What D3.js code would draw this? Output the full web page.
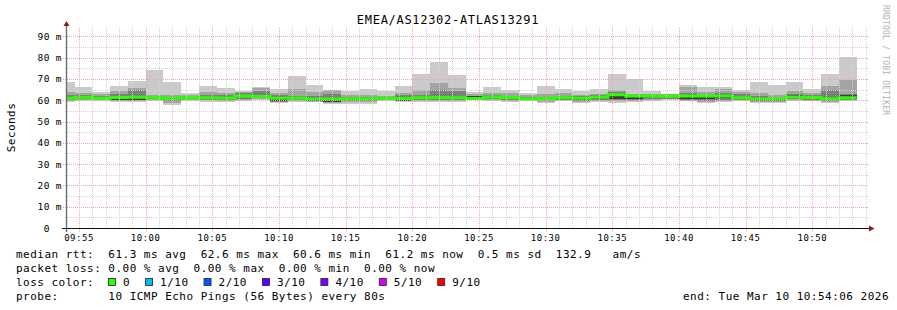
<!DOCTYPE html>
<html>
<head>
<meta charset="utf-8">
<script src="https://cdn.jsdelivr.net/npm/d3@7/dist/d3.min.js"></script>
<style>
  body { margin: 0; background: #fff; }
  svg text { font-family: "DejaVu Sans Mono", monospace; white-space: pre; }
</style>
</head>
<body>
<div id="chart"></div>
<script>
// one value per 80 s step, the first step starts before the left edge
var stepStart = "2026-03-10 09:53:20",
    stepSeconds = 80,
    graphStart = "2026-03-10 09:54:06",
    graphEnd = "2026-03-10 10:54:06";

// sorted pings per step (ms)
var pingMin = [59.0,59.6,59.8,59.2,59.2,59.8,58.0,59.8,59.2,59.1,59.8,60.0,58.8,59.2,59.1,58.3,58.3,58.4,59.8,59.3,59.1,59.1,59.2,60.0,59.6,59.1,59.8,58.8,59.8,58.8,59.3,58.8,59.1,59.5,60.2,59.5,58.8,59.1,59.5,58.8,58.8,59.8,59.5,58.8,59.5];
var pingLo2 = [59.8,60.2,60.2,59.8,59.6,60.3,58.8,60.2,59.9,59.6,60.3,60.5,59.0,59.7,59.4,58.8,59.0,59.3,60.2,59.5,59.7,59.6,59.7,60.3,60.0,59.7,60.0,59.4,60.1,59.3,59.7,59.5,59.6,60.0,60.5,59.8,59.3,59.6,59.9,59.3,59.3,60.1,59.8,59.3,59.9];
var pingLo3 = [60.3,60.6,60.4,60.0,59.9,60.6,59.5,60.5,60.3,60.0,60.8,60.9,59.2,60.2,59.5,59.1,59.6,59.8,60.4,59.6,60.1,60.0,60.1,60.5,60.5,60.2,60.2,59.9,60.3,59.7,60.1,60.0,60.1,60.5,60.8,60.0,59.8,60.0,60.2,59.5,59.5,60.4,60.1,59.8,60.3];
var pingLo5 = [60.6,61.1,60.7,60.3,60.0,61.0,59.9,61.0,60.9,60.8,61.7,61.1,59.5,60.8,59.8,59.4,60.2,60.4,60.7,59.8,60.9,61.0,60.9,60.5,61.2,61.0,60.3,60.5,60.7,60.3,60.5,60.8,60.8,61.7,61.6,60.5,60.5,61.1,60.5,59.8,59.8,61.2,61.0,60.4,60.8];
var pingMedian = [60.9,61.4,61.0,61.3,61.4,61.3,60.8,61.3,61.2,61.1,62.0,61.8,60.9,61.1,60.6,60.6,60.7,60.7,61.0,60.8,61.2,61.3,61.2,60.8,61.5,61.3,60.6,60.8,61.3,61.0,61.4,62.6,62.0,62.0,61.9,62.0,62.0,62.0,61.2,60.6,60.6,61.5,61.3,60.7,61.2];
var pingHi5 = [61.2,61.7,61.3,61.6,61.7,61.6,61.1,61.6,61.5,61.4,62.6,62.1,61.2,61.4,60.9,60.9,61.0,61.0,61.3,61.1,61.5,61.6,61.5,61.9,61.8,61.6,60.9,61.1,61.6,61.3,61.7,62.9,62.3,62.3,62.2,62.3,62.3,62.3,61.5,60.9,60.9,62.4,61.6,61.0,62.3];
var pingHi3 = [62.5,62.6,61.8,62.8,64.7,62.0,61.6,61.9,62.5,62.5,63.5,64.3,62.3,62.0,62.2,63.0,61.6,61.5,61.5,62.3,62.5,65.0,64.5,62.2,62.3,62.0,61.5,61.5,62.0,61.8,62.3,63.8,62.5,62.5,62.3,63.2,62.5,63.5,63.0,61.8,61.3,63.0,62.5,64.7,62.9];
var pingHi2 = [64.0,63.3,62.8,64.5,66.0,62.7,62.6,62.6,64.0,63.4,63.9,65.6,63.4,65.5,64.0,64.8,62.6,62.4,62.0,63.6,64.8,68.1,65.8,63.0,63.5,63.4,62.5,63.0,63.5,62.5,63.0,65.0,63.0,63.0,62.8,66.1,64.0,65.3,63.8,63.4,62.7,64.2,63.5,66.6,69.7];
var pingMax = [68.8,66.4,64.1,66.9,69.2,74.0,68.8,63.4,66.9,65.8,64.2,66.1,65.3,71.3,67.4,65.0,64.2,65.3,64.2,66.6,72.5,78.2,72.1,63.9,66.1,65.0,63.4,66.6,65.5,64.2,65.3,72.5,70.0,64.2,63.1,67.4,66.3,66.3,64.7,68.5,67.4,68.5,65.3,72.5,80.1];

var xTickLabels = ["09:55","10:00","10:05","10:10","10:15","10:20","10:25","10:30","10:35","10:40","10:45","10:50"];
var yTicks = [0,10,20,30,40,50,60,70,80,90];
var yTickLabels = ["0  ","10 m","20 m","30 m","40 m","50 m","60 m","70 m","80 m","90 m"];

var lossLabels = ["0","1/10","2/10","3/10","4/10","5/10","9/10"];
var lossColors = ["#26ff00","#00b8ff","#0059ff","#5e00ff","#7e00ff","#dd00ff","#ff0000"];

var legendLines = [
  "median rtt:  61.3 ms avg  62.6 ms max  60.6 ms min  61.2 ms now  0.5 ms sd  132.9   am/s",
  "packet loss: 0.00 % avg  0.00 % max  0.00 % min  0.00 % now",
  "loss color:",
  "probe:       10 ICMP Echo Pings (56 Bytes) every 80s"
];

var width = 897, height = 310,
    plotLeft = 67, plotRight = 867, plotBottom = 228, plotTop = 27;

var parse = d3.timeParse("%Y-%m-%d %H:%M:%S");
var t0 = parse(graphStart), t1 = parse(graphEnd), s0 = parse(stepStart);
var fmt = d3.timeFormat("%H:%M");

var x = d3.scaleTime().domain([t0, t1]).range([plotLeft, plotRight]);
var y = d3.scaleLinear().domain([0, 94.42]).range([plotBottom, plotTop]);

// step start times, plus the end of the last one
var times = pingMedian.map(function(d, i) { return d3.timeSecond.offset(s0, i * stepSeconds); });
times.push(d3.timeSecond.offset(s0, pingMedian.length * stepSeconds));

var svg = d3.select("#chart").append("svg")
    .attr("width", width)
    .attr("height", height);

svg.append("rect").attr("width", width).attr("height", height).attr("fill", "#fff");

svg.append("clipPath").attr("id", "plot")
  .append("rect")
    .attr("x", plotLeft).attr("y", plotTop)
    .attr("width", plotRight - plotLeft).attr("height", plotBottom - plotTop);

// smoke, outer band first
var bands = [
  { lo: pingMin, hi: pingMax, color: "#cacaca" },
  { lo: pingLo2, hi: pingHi2, color: "#a4a4a4" },
  { lo: pingLo3, hi: pingHi3, color: "#7e7e7e" },
  { lo: pingLo5, hi: pingHi5, color: "#3c3c3c" }
];

var smoke = svg.append("g").attr("clip-path", "url(#plot)").attr("shape-rendering", "crispEdges");
bands.forEach(function(b) {
  smoke.append("g").selectAll("rect")
    .data(d3.range(pingMedian.length))
    .join("rect")
      .attr("x", function(i) { return x(times[i]); })
      .attr("width", function(i) { return x(times[i + 1]) - x(times[i]); })
      .attr("y", function(i) { return y(b.hi[i]); })
      .attr("height", function(i) { return y(b.lo[i]) - y(b.hi[i]); })
      .attr("fill", b.color);
});

// median, coloured by loss (no loss here)
var medianPts = pingMedian.map(function(d, i) { return [times[i], d]; });
medianPts.push([times[times.length - 1], pingMedian[pingMedian.length - 1]]);

svg.append("g").attr("clip-path", "url(#plot)")
  .append("path")
    .datum(medianPts)
    .attr("fill", "none")
    .attr("stroke", lossColors[0])
    .attr("stroke-width", 3)
    .attr("d", d3.line()
      .curve(d3.curveStepAfter)
      .x(function(d) { return x(d[0]); })
      .y(function(d) { return y(d[1]); }));

// grid on top of the data, the way rrdtool does it
var grid = svg.append("g").attr("shape-rendering", "crispEdges").attr("stroke-dasharray", "1,1");
var minorColor = "#d2d2d2", majorColor = "#f0a8a8";

var minutes = d3.timeMinute.range(t0, t1);
grid.append("g").selectAll("line")
  .data(minutes.filter(function(t) { return t.getMinutes() % 5 !== 0; }))
  .join("line")
    .attr("x1", function(t) { return Math.round(x(t)) + 0.5; })
    .attr("x2", function(t) { return Math.round(x(t)) + 0.5; })
    .attr("y1", plotBottom).attr("y2", plotTop)
    .attr("stroke", minorColor);

grid.append("g").selectAll("line")
  .data(yTicks.slice(0, -1).map(function(v) { return v + 5; }))
  .join("line")
    .attr("x1", plotLeft - 2).attr("x2", plotRight + 2)
    .attr("y1", function(v) { return Math.round(y(v)) + 0.5; })
    .attr("y2", function(v) { return Math.round(y(v)) + 0.5; })
    .attr("stroke", minorColor);

var majorTimes = xTickLabels.map(function(l) { return parse("2026-03-10 " + l + ":00"); });
grid.append("g").selectAll("line")
  .data(majorTimes)
  .join("line")
    .attr("x1", function(t) { return Math.round(x(t)) + 0.5; })
    .attr("x2", function(t) { return Math.round(x(t)) + 0.5; })
    .attr("y1", plotBottom + 4).attr("y2", plotTop)
    .attr("stroke", majorColor);

grid.append("g").selectAll("line")
  .data(yTicks.slice(1))
  .join("line")
    .attr("x1", plotLeft - 4).attr("x2", plotRight + 2)
    .attr("y1", function(v) { return Math.round(y(v)) + 0.5; })
    .attr("y2", function(v) { return Math.round(y(v)) + 0.5; })
    .attr("stroke", majorColor);

// axes with arrows
svg.append("line")
    .attr("x1", plotLeft - 0.5).attr("x2", plotLeft - 0.5)
    .attr("y1", plotBottom + 4).attr("y2", plotTop - 1)
    .attr("stroke", "#6e6e6e").attr("stroke-width", 1.4);
svg.append("line")
    .attr("x1", plotLeft - 5).attr("x2", plotRight + 2)
    .attr("y1", plotBottom + 0.5).attr("y2", plotBottom + 0.5)
    .attr("stroke", "#111").attr("stroke-width", 1.2);
svg.append("path")
    .attr("d", "M" + (plotLeft - 3.5) + "," + (plotTop - 1) + "L" + (plotLeft - 0.5) + "," + (plotTop - 6) + "L" + (plotLeft + 2.5) + "," + (plotTop - 1) + "Z")
    .attr("fill", "#8b1c1c");
svg.append("path")
    .attr("d", "M" + (plotRight + 2) + "," + (plotBottom - 2.5) + "L" + (plotRight + 7.5) + "," + (plotBottom + 0.5) + "L" + (plotRight + 2) + "," + (plotBottom + 3.5) + "Z")
    .attr("fill", "#8b1c1c");

// tick labels
svg.append("g").selectAll("text")
  .data(majorTimes)
  .join("text")
    .attr("x", function(t) { return x(t); })
    .attr("y", plotBottom + 13)
    .attr("text-anchor", "middle")
    .attr("font-size", 9)
    .attr("letter-spacing", 0.5)
    .text(function(t) { return fmt(t); });

svg.append("g").selectAll("text")
  .data(yTicks)
  .join("text")
    .attr("x", plotLeft - 5)
    .attr("y", function(v) { return y(v) + 3.5; })
    .attr("text-anchor", "end")
    .attr("font-size", 9.5)
    .attr("letter-spacing", 0.4)
    .text(function(v, i) { return yTickLabels[i]; });

// title and side labels
svg.append("text")
    .attr("x", 448).attr("y", 23.5)
    .attr("text-anchor", "middle")
    .attr("font-size", 12)
    .attr("letter-spacing", 0.7)
    .text("EMEA/AS12302-ATLAS13291");

svg.append("text")
    .attr("transform", "translate(15,127.5) rotate(-90)")
    .attr("text-anchor", "middle")
    .attr("font-size", 11)
    .attr("letter-spacing", 0.45)
    .text("Seconds");

svg.append("text")
    .attr("transform", "translate(883,5) rotate(90)")
    .attr("font-size", 8)
    .attr("letter-spacing", 0.2)
    .attr("fill", "#b0b0b0")
    .text("RRDTOOL / TOBI OETIKER");

// legend
var legend = svg.append("g").attr("font-size", 11).attr("letter-spacing", 0.48);
legend.selectAll("text.line")
  .data(legendLines)
  .join("text")
    .attr("x", 16)
    .attr("y", function(d, i) { return 258 + i * 14; })
    .text(function(d) { return d; });

var lx = 108;
lossLabels.forEach(function(l, i) {
  legend.append("rect")
      .attr("x", lx + 0.5).attr("y", 278.5)
      .attr("width", 7).attr("height", 7)
      .attr("fill", lossColors[i])
      .attr("stroke", "#222").attr("stroke-width", 0.8);
  var t = legend.append("text")
      .attr("x", lx + 15).attr("y", 286)
      .text(l);
  lx = lx + 15 + t.node().getComputedTextLength() + 15;
});

legend.append("text")
    .attr("x", 889).attr("y", 300)
    .attr("text-anchor", "end")
    .text("end: Tue Mar 10 10:54:06 2026");
</script>
</body>
</html>
